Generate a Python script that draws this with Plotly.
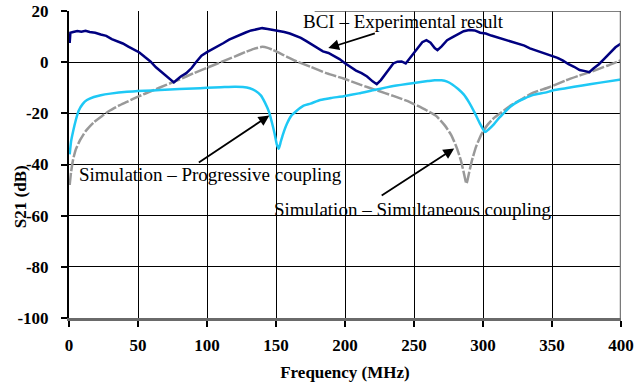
import plotly.graph_objects as go

# ---- data ----
bci_f = [0.5, 1, 3, 6, 9, 12, 15, 19, 23, 27, 31, 35, 39, 43, 47, 51, 55, 59, 63, 67, 71, 74, 76, 78, 81, 85, 89, 92, 96,
         100, 104, 108, 112, 116, 120, 124, 128, 132, 136, 140, 144, 148, 152, 156, 160, 164, 168, 172, 176, 180, 184,
         188, 192, 196, 200, 204, 208, 212, 216, 220, 223, 226, 229, 232, 235, 238, 241, 244, 247, 250, 253, 256, 259,
         262, 265, 267, 270, 274, 278, 282, 286, 290, 294, 298, 302, 306, 310, 314, 318, 322, 326, 330, 334, 338, 342,
         346, 350, 354, 358, 362, 366, 370, 374, 377, 380, 384, 388, 392, 396, 400]
bci_db = [7.5, 11.5, 11.8, 12.2, 11.9, 12.3, 11.8, 11.5, 10.8, 10.3, 9.0, 8.2, 7.3, 6.1, 4.8, 3.8, 2.0, 0.3, -2.0, -3.8,
          -5.8, -7.2, -7.9, -7.0, -5.6, -4.3, -2.2, 0.0, 2.5, 3.9, 5.0, 6.3, 7.5, 8.8, 9.8, 10.8, 11.6, 12.4, 12.8, 13.3,
          13.0, 12.6, 12.3, 11.8, 11.2, 10.4, 9.5, 8.2, 6.8, 5.3, 4.2, 3.6, 2.5, 1.2, -0.4, -1.9, -3.3, -4.3, -5.6, -7.5,
          -8.6, -7.0, -4.8, -2.5, -0.5, 0.2, 0.3, -0.5, 1.5, 3.4, 5.5, 7.8, 8.6, 7.6, 5.5, 4.7, 6.2, 8.6, 9.8, 10.8, 12.1,
          12.6, 12.4, 11.5, 11.2, 10.4, 9.8, 9.2, 8.6, 8.0, 7.2, 6.5, 5.4, 4.7, 3.9, 3.0, 2.5, 1.7, 0.6, -0.8, -1.8, -3.1,
          -3.5, -3.9, -2.5, -0.8, 1.4, 3.8, 5.8, 7.3]

simu_f = [0.5, 1.5, 3, 5, 8, 12, 18, 24, 30, 36, 42, 50, 60, 70, 80, 90, 100, 110, 120, 128, 134, 140, 144, 148, 152,
          158, 165, 175, 187, 199, 211, 223, 235, 247, 259, 266, 272, 277, 281, 284, 286, 288, 290, 292, 295, 299, 303,
          308, 313, 320, 328, 336, 348, 360, 370, 378, 390, 400]
simu_db = [-48, -43, -38, -34, -30.5, -27, -23.5, -21, -18.8, -17, -15.5, -13.5, -11.2, -9, -6.8, -4.4, -2.2, 0.0, 2.2,
           4.0, 5.2, 6.0, 5.6, 4.7, 3.7, 2.1, 0.3, -1.8, -4.4, -6.4, -8.8, -11, -13.2, -15.6, -18.8, -21, -24.5, -28.5,
           -33.5, -38.5, -43, -47.5, -43, -38.4, -33, -28, -24.7, -21.8, -19.8, -17.0, -14.5, -12.0, -9.8, -7.1, -5.2,
           -3.8, -1.4, 0.8]

prog_f = [0.5, 1.5, 3, 5, 7, 10, 13, 18, 23, 30, 42, 55, 66, 80, 90, 100, 110, 120, 126, 131, 135, 139, 142, 145, 147,
          149, 150.5, 152, 153.5, 155, 158, 161, 165, 170, 175, 182, 190, 199, 210, 220, 235, 250, 260, 265, 270, 274,
          278, 282, 286, 290, 294, 298, 301.5, 304, 308, 312, 316, 320, 325, 330, 336, 345, 351, 360, 372, 385, 400]
prog_db = [-36, -31, -27, -22.5, -19, -16.3, -14.8, -13.6, -12.9, -12.3, -11.6, -11.2, -10.9, -10.5, -10.3, -10.0, -9.8,
           -9.6, -9.7, -10.2, -11.2, -13.0, -15.8, -19.5, -23.5, -28, -32, -33.8, -31, -28.3, -24, -21, -19, -17, -16.2,
           -14.8, -14.0, -13.3, -12.2, -11.0, -9.3, -8.1, -7.4, -7.1, -7.1, -7.6, -8.8, -10.5, -12.6, -15.8, -19.8,
           -24.2, -27.3, -26.3, -24.2, -21.6, -19.4, -17.3, -15.5, -14.2, -12.9, -11.9, -11, -10.2, -9.1, -8.0, -6.8]

x_ticks = [0, 50, 100, 150, 200, 250, 300, 350, 400]
y_ticks = [-100, -80, -60, -40, -20, 0, 20]

SERIF = "Liberation Serif, Times New Roman, serif"

fig = go.Figure()
fig.add_trace(go.Scatter(x=simu_f, y=simu_db, mode="lines", name="Simulation – Simultaneous coupling",
                         line=dict(color="#999999", width=2.5, dash="12px,2px", shape="spline", smoothing=0.5)))
fig.add_trace(go.Scatter(x=prog_f, y=prog_db, mode="lines", name="Simulation – Progressive coupling",
                         line=dict(color="#1ec8f5", width=2.5, shape="spline", smoothing=0.5)))
fig.add_trace(go.Scatter(x=bci_f, y=bci_db, mode="lines", name="BCI – Experimental result",
                         line=dict(color="#000080", width=2.5)))

annos = [
    dict(text="BCI – Experimental result", x=167.8, y=15.9, xanchor="left", yanchor="middle", showarrow=False),
    dict(text="Simulation – Progressive coupling", x=6, y=-43.9, xanchor="left", yanchor="middle", showarrow=False),
    dict(text="Simulation – Simultaneous coupling", x=147.3, y=-57.6, xanchor="left", yanchor="middle", showarrow=False),
]
for a in annos:
    a.update(xref="x", yref="y", font=dict(family=SERIF, size=19, color="black"))
arrows = [
    (187.9, 5.5, 222.7, 11.4),
    (145.2, -20.8, 93.0, -39.6),
    (279.1, -33.7, 225.5, -52.5),
]
for (hx, hy, tx, ty) in arrows:
    annos.append(dict(x=hx, y=hy, ax=tx, ay=ty, xref="x", yref="y", axref="x", ayref="y", text="",
                      showarrow=True, arrowhead=2, arrowsize=1.2, arrowwidth=1.8, arrowcolor="black"))
# y-axis title
annos.append(dict(text="<b>S21 (dB)</b>", xref="paper", yref="paper", x=-0.088, y=0.395,
                  xanchor="center", yanchor="middle", textangle=-90, showarrow=False,
                  font=dict(family=SERIF, size=17, color="black")))

fig.update_layout(
    width=636, height=385,
    margin=dict(l=68.5, r=14.5, t=11, b=67),
    paper_bgcolor="white", plot_bgcolor="white",
    showlegend=False,
    annotations=annos,
    font=dict(family=SERIF, color="black"),
    shapes=[
        dict(type="line", xref="x", yref="y", x0=400, x1=400, y0=-100, y1=20, line=dict(color="#7a7a7a", width=2.5)),
        dict(type="line", xref="x", yref="y", x0=178, x1=400, y0=20, y1=20, line=dict(color="#555555", width=1.5)),
    ],
)
fig.update_xaxes(range=[0, 400], tickvals=x_ticks, ticktext=[str(v) for v in x_ticks], automargin=False,
                 showgrid=True, gridcolor="black", gridwidth=1, zeroline=False,
                 showline=True, linecolor="#6a6a6a", linewidth=2.5,
                 ticks="outside", ticklen=6, tickwidth=1.5, tickcolor="black", ticklabelstandoff=4,
                 tickfont=dict(family=SERIF, size=17, color="black", weight="bold"),
                 title=dict(text="<b>Frequency (MHz)</b>", font=dict(family=SERIF, size=17, color="black"), standoff=12))
fig.update_yaxes(range=[-100, 20], tickvals=y_ticks, ticktext=[str(v) for v in y_ticks], automargin=False,
                 showgrid=True, gridcolor="black", gridwidth=1, zeroline=False,
                 showline=True, linecolor="black", linewidth=2,
                 ticks="outside", ticklen=6, tickwidth=1.5, tickcolor="black", ticklabelstandoff=9,
                 tickfont=dict(family=SERIF, size=17, color="black", weight="bold"))

fig.write_html("out.html")
